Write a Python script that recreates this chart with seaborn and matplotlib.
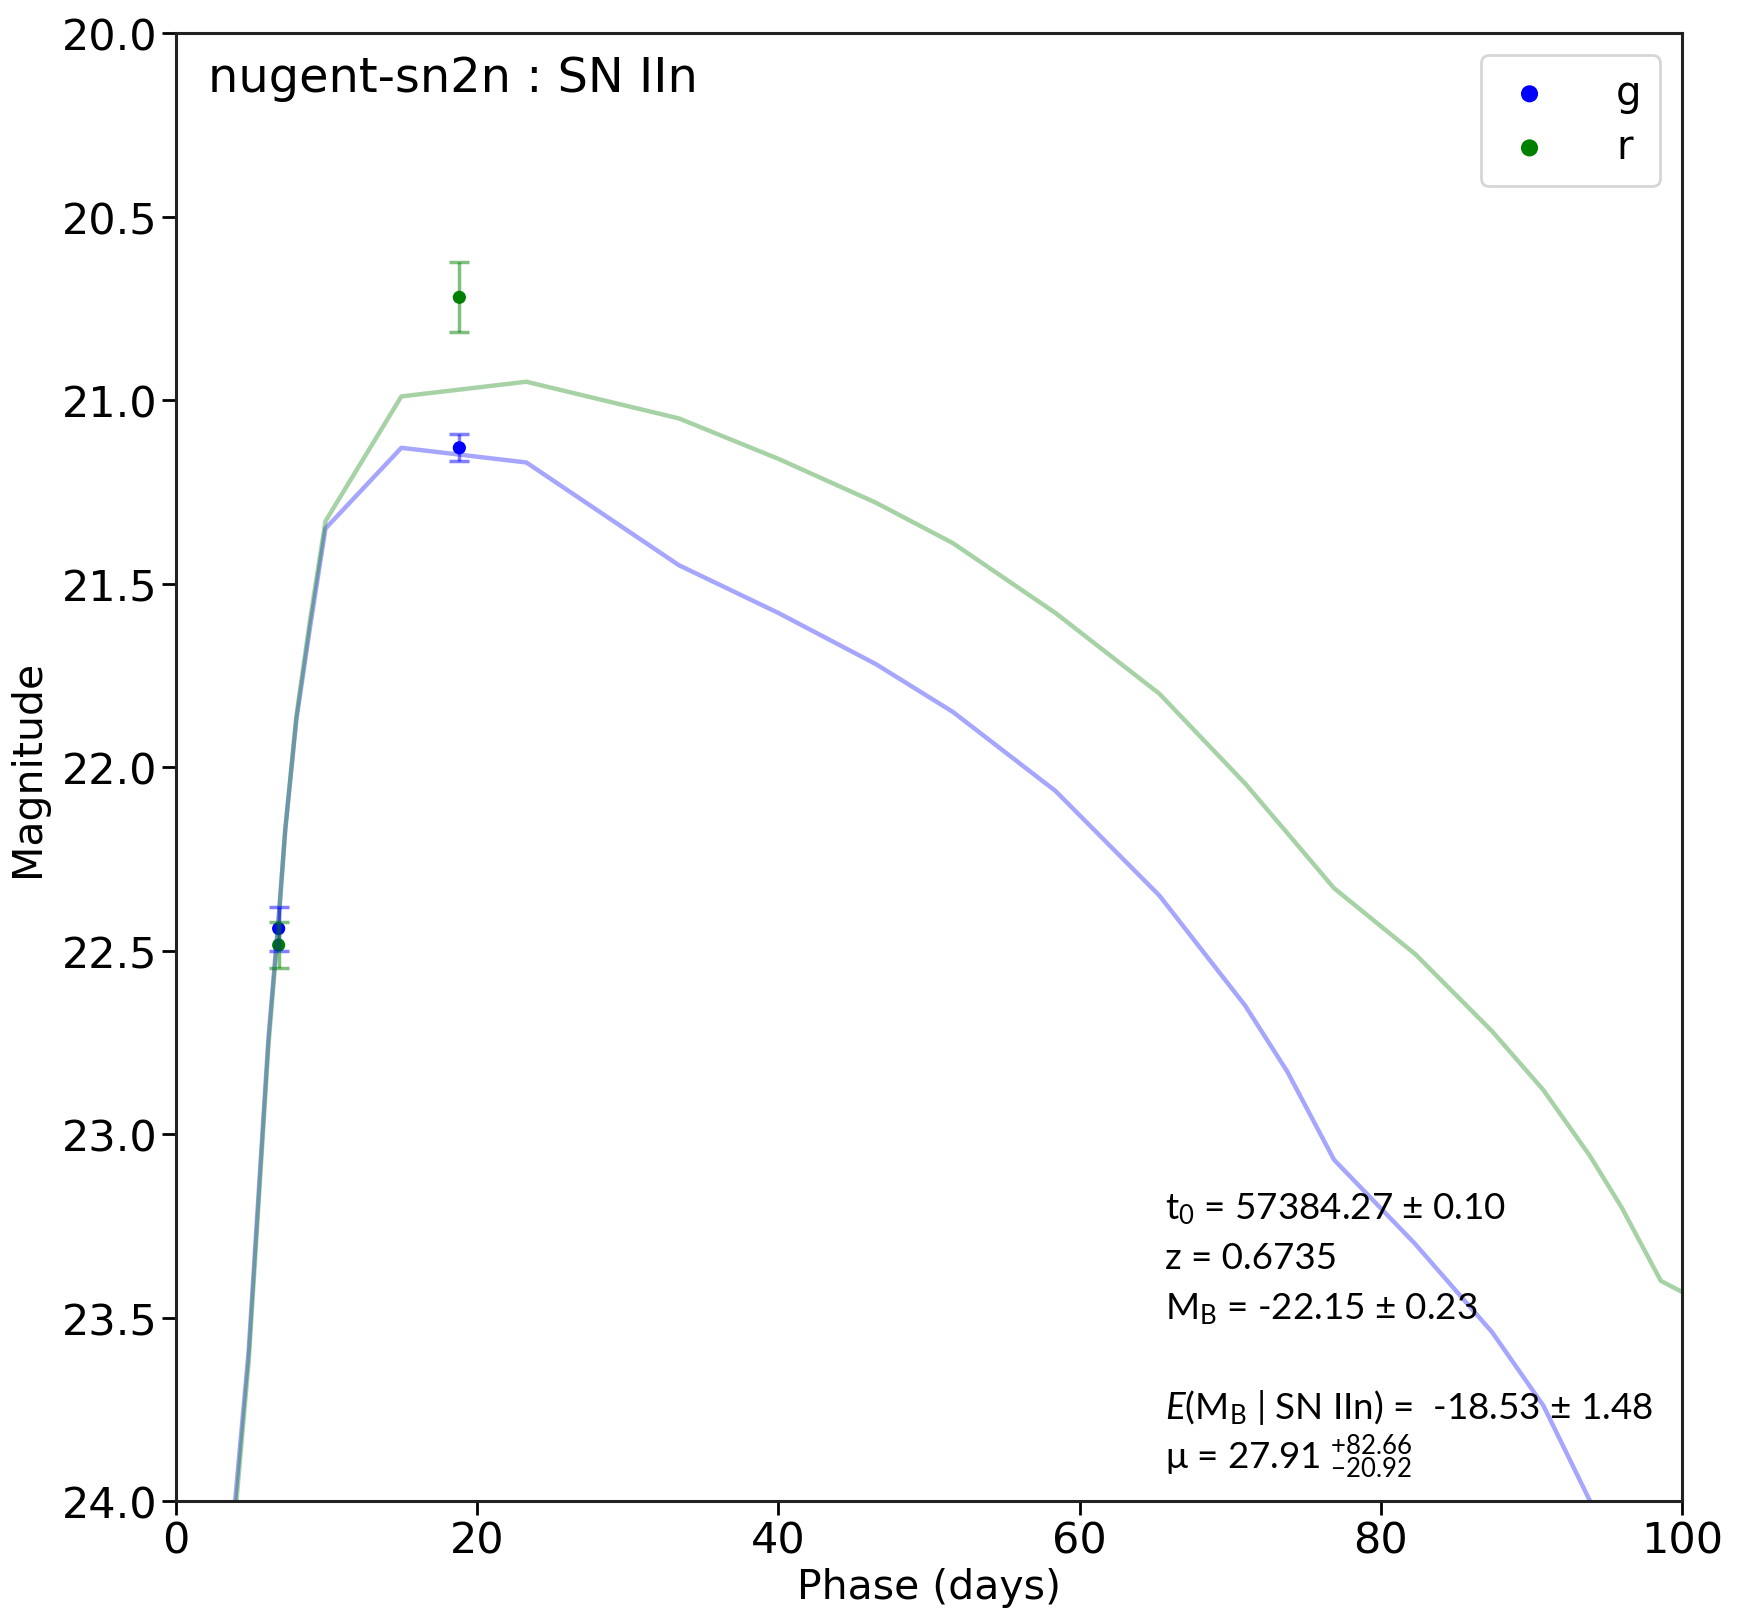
import numpy as np
import pandas as pd
import matplotlib
matplotlib.use("Agg")
import matplotlib.pyplot as plt
import seaborn as sns

# model light curves (phase in days, magnitude)
phase = [3.5, 3.93, 4.83, 6.14, 6.82, 7.26, 8.0, 8.9, 9.93, 14.97, 23.27, 33.4, 40.0, 46.5,
         51.6, 58.4, 65.3, 71.0, 73.8, 76.9, 82.3, 87.4, 90.8, 93.9, 96.0, 98.6, 100.0]
model_g = [24.22, 24.0, 23.59, 22.74, 22.41, 22.17, 21.87, 21.62, 21.35, 21.13, 21.17, 21.45,
           21.58, 21.72, 21.85, 22.065, 22.35, 22.65, 22.83, 23.07, 23.30, 23.54, 23.74,
           24.0, 24.15, 24.35, 24.45]
model_r = [24.25, 24.04, 23.62, 22.76, 22.42, 22.17, 21.86, 21.60, 21.33, 20.99, 20.95, 21.05,
           21.16, 21.28, 21.39, 21.58, 21.80, 22.045, 22.18, 22.33, 22.51, 22.72, 22.88,
           23.06, 23.20, 23.40, 23.43]

# observed points with errors
obs_phase = [6.82, 18.82]
obs_g = [22.44, 21.13]
obs_g_err = [0.06, 0.037]
obs_r = [22.485, 20.72]
obs_r_err = [0.062, 0.095]

bands = ["g", "r"]
band_colors = {"g": "blue", "r": "green"}

model = pd.DataFrame({"phase": phase * 2,
                      "mag": model_g + model_r,
                      "band": ["g"] * len(phase) + ["r"] * len(phase)})
obs = pd.DataFrame({"phase": obs_phase * 2,
                    "mag": obs_g + obs_r,
                    "err": obs_g_err + obs_r_err,
                    "band": ["g"] * len(obs_phase) + ["r"] * len(obs_phase)})

sns.set_style("ticks", {"text.color": "black", "axes.labelcolor": "black",
                        "xtick.color": "black", "ytick.color": "black",
                        "axes.edgecolor": "#222222"})
plt.rcParams["font.family"] = ["DejaVu Sans"]
plt.rcParams["mathtext.fontset"] = "custom"
plt.rcParams["mathtext.rm"] = "Lato"
plt.rcParams["mathtext.it"] = "Lato:italic"
plt.rcParams["mathtext.default"] = "regular"

fig, ax = plt.subplots(figsize=(17.42, 16.24), dpi=100)
fig.subplots_adjust(left=0.101, right=0.9655, bottom=0.0751, top=0.979)

# model curves
for b in bands:
    sns.lineplot(data=model[model.band == b], x="phase", y="mag", ax=ax, sort=False,
                 estimator=None, color=band_colors[b], alpha=0.35, lw=3.2, legend=False)

# data points + error bars
for b in bands:
    d = obs[obs.band == b]
    ax.errorbar(d.phase, d.mag, yerr=d.err, fmt="none", ecolor=band_colors[b],
                alpha=0.5, elinewidth=2.5, capsize=7, capthick=2.5)
    sns.scatterplot(data=d, x="phase", y="mag", ax=ax, color=band_colors[b], s=90,
                    edgecolor="none", label=b)

ax.set_xlim(0, 100)
ax.set_ylim(24, 20)
ax.set_yticks(np.arange(20, 24.01, 0.5))
ax.set_xticks(np.arange(0, 101, 20))
ax.set_xlabel("Phase (days)", fontsize=29.5, labelpad=4)
ax.set_ylabel("Magnitude", fontsize=29.5, labelpad=10)
ax.tick_params(labelsize=31, length=10, width=2, color="black")
for sp in ax.spines.values():
    sp.set_linewidth(2.2)

leg = ax.legend(loc="upper right", fontsize=29, markerscale=1.3, handletextpad=1.4,
                borderpad=0.45, labelspacing=0.35, handlelength=1.5, borderaxespad=0.55)
leg.get_frame().set_linewidth(2)

ax.text(0.021, 0.9605, "nugent-sn2n : SN IIn", transform=ax.transAxes, fontsize=34.5,
        va="baseline", ha="left")

# fit summary
fam = ["Lato", "DejaVu Sans"]
lines = [
    (0.1928, "t$_0$ = 57384.27 ± 0.10"),
    (0.1587, "z = 0.6735"),
    (0.1247, "M$_B$ = -22.15 ± 0.23"),
    (0.0565, "$\\mathit{E}$(M$_B$ | SN IIn) =  -18.53 ± 1.48"),
    (0.0225, "μ = 27.91 $^{+82.66}_{-20.92}$"),
]
for y, s in lines:
    ax.text(0.6567, y, s, transform=ax.transAxes, fontsize=26.5, family=fam,
            va="baseline", ha="left")

fig.savefig("out.png", dpi=100)
